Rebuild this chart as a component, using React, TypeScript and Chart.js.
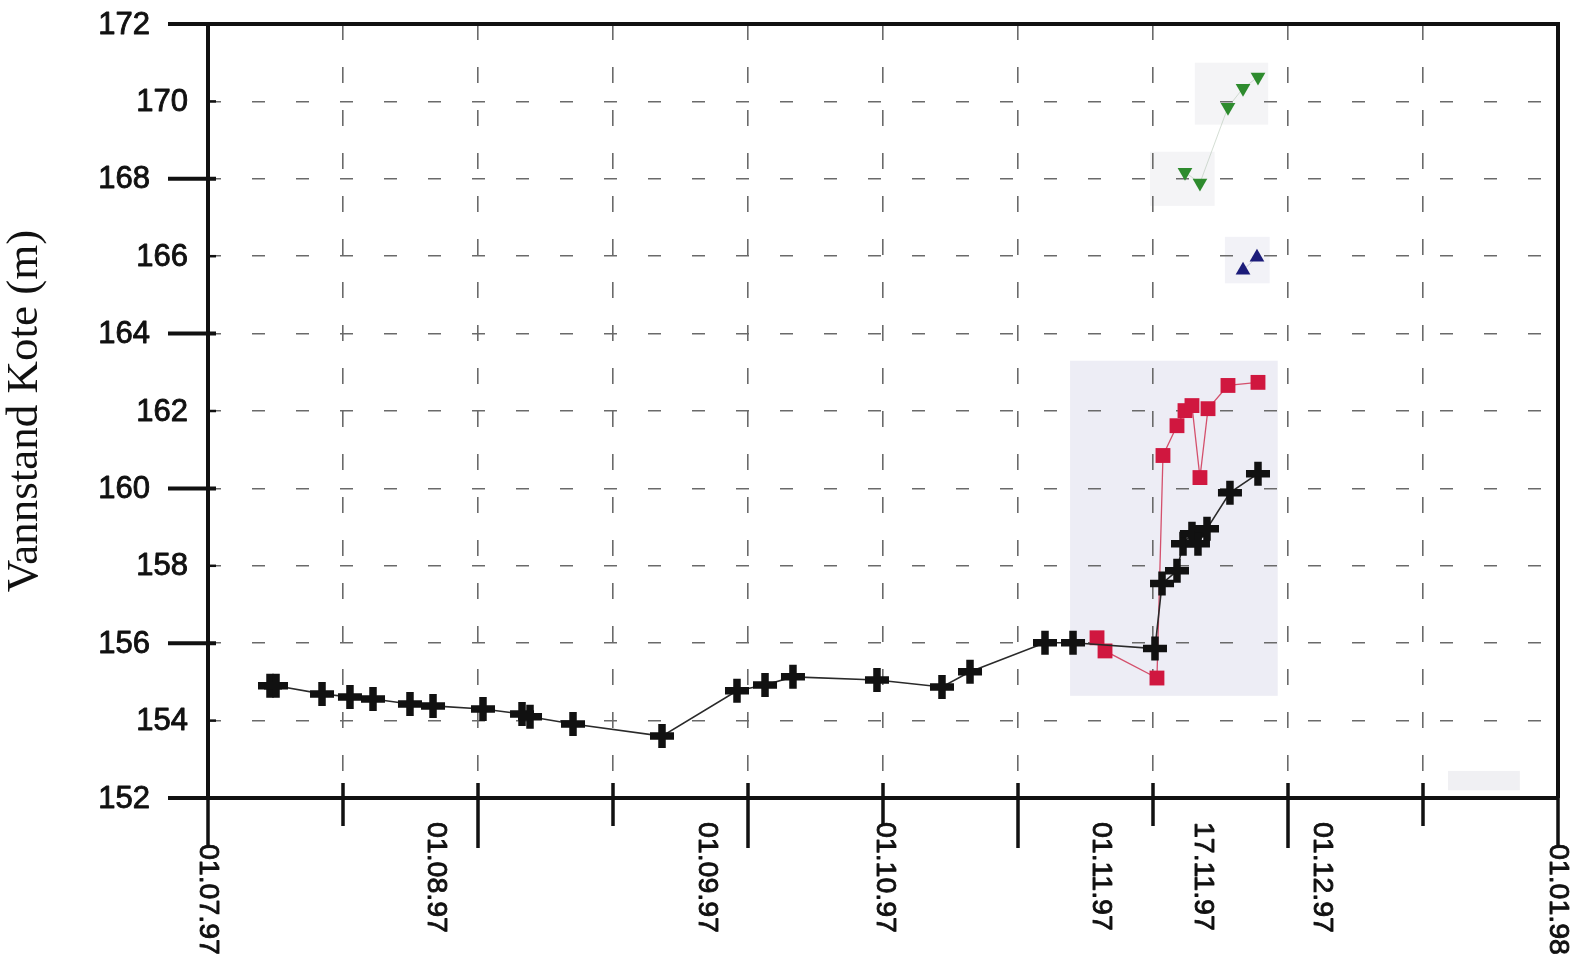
import React, { useEffect, useRef } from 'react';
import { Chart, registerables } from 'chart.js';

Chart.register(...registerables);

// X axis: days counted from 01.07.97
const xGridTicks = [0, 18.4, 36.8, 55.2, 73.6, 92, 110.4, 128.8, 147.2, 165.6, 184];
const xLabelDays = [0, 31, 68, 92.3, 121.7, 135.6, 151.8, 184];
const xLabels = ['01.07.97', '01.08.97', '01.09.97', '01.10.97', '01.11.97', '17.11.97', '01.12.97', '01.01.98'];
const yTicks = [152, 154, 156, 158, 160, 162, 164, 166, 168, 170, 172];

const blackDays = [8.45, 9.27, 15.54, 19.35, 22.49, 27.53, 30.67, 37.48, 42.8, 43.89, 49.75, 61.88, 72.1, 75.92, 79.73, 91.18, 100.04, 103.86, 114.08, 117.9, 129.07, 130.03, 132.07, 132.89, 134.11, 134.93, 136.16, 139.29, 143.11];
const blackLevels = [154.9, 154.9, 154.69, 154.61, 154.56, 154.43, 154.38, 154.3, 154.17, 154.1, 153.91, 153.6, 154.77, 154.92, 155.13, 155.05, 154.87, 155.26, 156.01, 156.01, 155.86, 157.54, 157.87, 158.57, 158.83, 158.57, 158.96, 159.89, 160.38];

const redDays = [121.17, 122.26, 129.34, 130.16, 132.07, 133.16, 134.11, 135.2, 136.3, 139.02, 143.11];
const redLevels = [156.14, 155.8, 155.1, 160.85, 161.62, 162.01, 162.14, 160.28, 162.06, 162.66, 162.74];

const greenDays = [133.16, 135.2, 139.02, 141.07, 143.11];
const greenLevels = [168.17, 167.89, 169.85, 170.34, 170.63];

const blueDays = [141.07, 142.97];
const blueLevels = [165.64, 165.97];

// faint highlighted regions of the scanned original (in data units)
const highlightX0 = [117.5, 134.5, 128.4, 138.6, 169.0];
const highlightX1 = [145.8, 144.5, 137.2, 144.7, 178.8];
const highlightY0 = [154.64, 169.4, 167.3, 165.3, 152.2];
const highlightY1 = [163.3, 171.0, 168.7, 166.5, 152.7];
const highlightColors = ['#ededf5', '#f4f4f6', '#f4f4f6', '#f2f2f7', '#f0f0f3'];

const pts = (xs: number[], ys: number[]) => xs.map((x, i) => ({ x, y: ys[i] }));

const SANS = '"Liberation Sans", Arial, sans-serif';

function heavyText(ctx: CanvasRenderingContext2D, s: string, x: number, y: number) {
  ctx.fillText(s, x, y);
  ctx.strokeText(s, x, y);
}

const decor = {
  id: 'decor',
  beforeDraw(chart: any) {
    const { ctx, scales } = chart;
    const xs = scales.x, ys = scales.y;
    ctx.save();
    for (let i = 0; i < highlightX0.length; i++) {
      const x0 = xs.getPixelForValue(highlightX0[i]);
      const x1 = xs.getPixelForValue(highlightX1[i]);
      const y0 = ys.getPixelForValue(highlightY0[i]);
      const y1 = ys.getPixelForValue(highlightY1[i]);
      ctx.fillStyle = highlightColors[i];
      ctx.fillRect(x0, y1, x1 - x0, y0 - y1);
    }
    ctx.restore();
  },
  afterDraw(chart: any) {
    const { ctx, chartArea: a, scales } = chart;
    const xs = scales.x, ys = scales.y;
    ctx.save();
    ctx.strokeStyle = '#111';
    ctx.fillStyle = '#111';
    ctx.lineCap = 'butt';
    // frame
    ctx.lineWidth = 4;
    ctx.beginPath();
    ctx.moveTo(a.left - 2, a.top);
    ctx.lineTo(a.right + 2, a.top);
    ctx.moveTo(a.right, a.top);
    ctx.lineTo(a.right, a.bottom);
    ctx.moveTo(a.left, a.top);
    ctx.lineTo(a.left, a.bottom);
    ctx.moveTo(a.left, a.bottom);
    ctx.lineTo(a.right, a.bottom);
    ctx.stroke();
    // y ticks
    yTicks.forEach((v) => {
      const py = ys.getPixelForValue(v);
      const major = (v - 152) % 4 === 0;
      ctx.lineWidth = major ? 4 : 2.5;
      ctx.beginPath();
      ctx.moveTo(major ? a.left - 40 : a.left, py);
      ctx.lineTo(a.left + 8, py);
      ctx.stroke();
    });
    // x ticks
    xGridTicks.forEach((v, i) => {
      const px = xs.getPixelForValue(v);
      ctx.lineWidth = 3.5;
      ctx.beginPath();
      ctx.moveTo(px, a.bottom - 15);
      ctx.lineTo(px, a.bottom + (i % 2 === 0 ? 50 : 28));
      ctx.stroke();
    });
    // y labels
    ctx.lineWidth = 0.9;
    ctx.lineJoin = 'round';
    ctx.font = `31px ${SANS}`;
    ctx.textAlign = 'right';
    ctx.textBaseline = 'middle';
    yTicks.forEach((v) => {
      const py = ys.getPixelForValue(v);
      const major = (v - 152) % 4 === 0;
      heavyText(ctx, String(v), major ? a.left - 58 : a.left - 20, py + 1);
    });
    // x labels, rotated clockwise
    ctx.font = `28.5px ${SANS}`;
    ctx.textAlign = 'left';
    ctx.textBaseline = 'middle';
    xLabels.forEach((lab, i) => {
      const px = xs.getPixelForValue(xLabelDays[i]);
      const edge = i === 0 || i === xLabels.length - 1;
      ctx.save();
      ctx.translate(px, a.bottom + (edge ? 46 : 24));
      ctx.rotate(Math.PI / 2);
      heavyText(ctx, lab, 0, 0);
      ctx.restore();
    });
    ctx.restore();
  },
};

export default function App() {
  const ref = useRef<HTMLCanvasElement | null>(null);
  useEffect(() => {
    if (!ref.current) return;
    const chart = new Chart(ref.current, {
      type: 'line',
      data: {
        datasets: [
          {
            label: 'black',
            data: pts(blackDays, blackLevels),
            borderColor: '#2a2a2a',
            borderWidth: 1.6,
            pointStyle: 'cross',
            pointRadius: 12,
            pointBorderWidth: 7.5,
            pointBorderColor: '#111',
            pointBackgroundColor: '#111',
            order: 0,
          },
          {
            label: 'red',
            data: pts(redDays, redLevels),
            borderColor: '#d4506c',
            borderWidth: 1.3,
            pointStyle: 'rect',
            pointRadius: 10.5,
            pointBorderWidth: 0,
            pointBackgroundColor: '#d0173f',
            pointBorderColor: '#d0173f',
            order: 1,
          },
          {
            label: 'green',
            data: pts(greenDays, greenLevels),
            borderColor: 'rgba(170,190,170,0.5)',
            borderWidth: 1,
            pointStyle: 'triangle',
            pointRotation: 180,
            pointRadius: 8.5,
            pointBorderWidth: 0,
            pointBackgroundColor: '#2e8b2e',
            pointBorderColor: '#2e8b2e',
            order: 2,
          },
          {
            label: 'blue',
            data: pts(blueDays, blueLevels),
            borderColor: 'rgba(150,150,190,0.5)',
            borderWidth: 1,
            pointStyle: 'triangle',
            pointRadius: 8.5,
            pointBorderWidth: 0,
            pointBackgroundColor: '#1c1c7a',
            pointBorderColor: '#1c1c7a',
            order: 3,
          },
        ],
      },
      options: {
        animation: false,
        responsive: true,
        maintainAspectRatio: false,
        events: [],
        layout: { padding: { top: 24, right: 22, left: 0, bottom: 0 } },
        plugins: { legend: { display: false }, tooltip: { enabled: false } },
        scales: {
          x: {
            type: 'linear',
            min: 0,
            max: 184,
            afterBuildTicks: (s: any) => {
              s.ticks = xGridTicks.map((value) => ({ value }));
            },
            afterFit: (s: any) => {
              s.height = 167;
            },
            ticks: { display: false },
            grid: { color: '#6a6a6a', lineWidth: 1.6, drawTicks: false },
            border: { display: false, dash: [16, 27] },
          },
          y: {
            type: 'linear',
            min: 152,
            max: 172,
            afterBuildTicks: (s: any) => {
              s.ticks = yTicks.map((value) => ({ value }));
            },
            afterFit: (s: any) => {
              s.width = 208;
            },
            ticks: { display: false },
            grid: { color: '#6a6a6a', lineWidth: 1.6, drawTicks: false },
            border: { display: false, dash: [13, 31] },
            title: {
              display: true,
              text: 'Vannstand Kote (m)',
              color: '#111',
              font: { family: '"Liberation Serif", "Times New Roman", serif', size: 45, lineHeight: 1.1 },
              padding: { top: 0, bottom: 0 },
            },
          },
        },
      },
      plugins: [decor],
    } as any);
    return () => chart.destroy();
  }, []);
  return (
    <div style={{ position: 'fixed', left: 0, top: 0, width: 1580, height: 965, background: '#fff' }}>
      <canvas ref={ref} />
    </div>
  );
}
